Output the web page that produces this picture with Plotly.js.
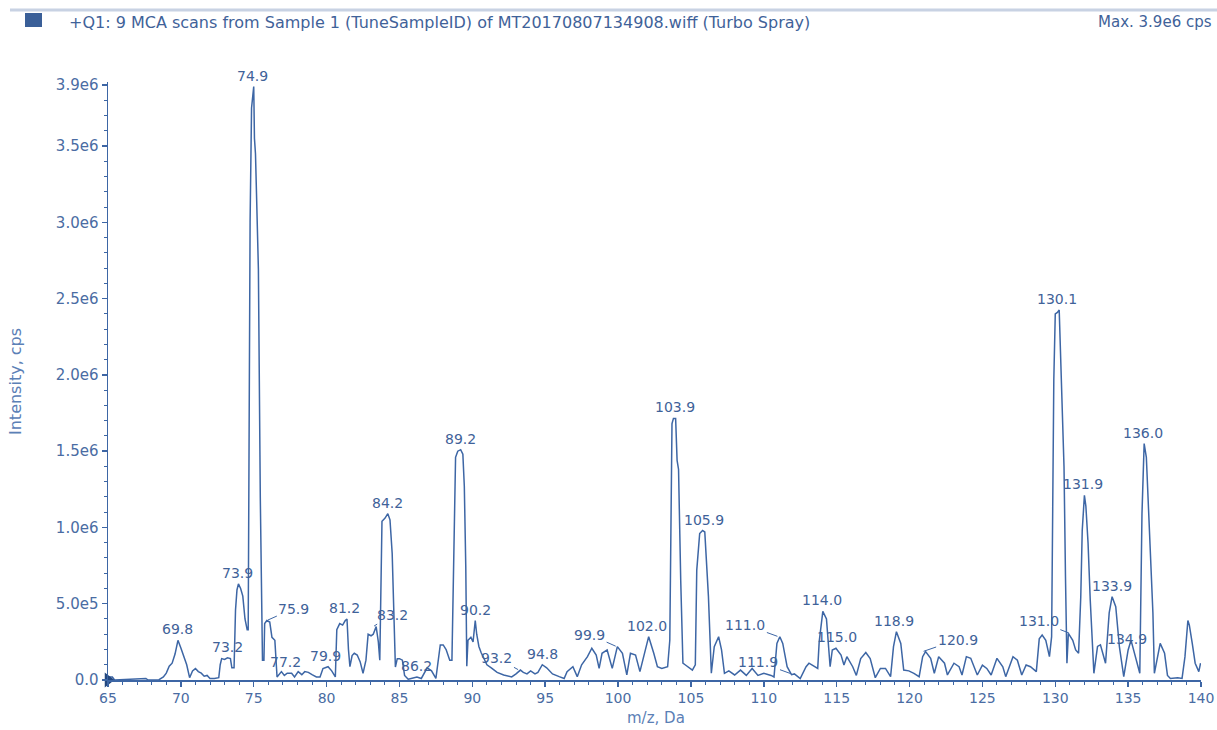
<!DOCTYPE html>
<html>
<head>
<meta charset="utf-8">
<script src="https://cdn.plot.ly/plotly-3.0.1.min.js"></script>
<style>
  html, body { margin: 0; padding: 0; background: #ffffff; }
  #chart { width: 1217px; height: 730px; }
</style>
</head>
<body>
<div id="chart"></div>
<script>
// ---- Data ----
const mz = [
  65.0, 65.3, 65.45, 66.0, 66.8, 67.0, 67.6, 67.75, 68.5, 68.8,
  69.0, 69.2, 69.4, 69.6, 69.8, 70.0, 70.2, 70.4, 70.6, 70.8,
  71.0, 71.2, 71.4, 71.6, 71.8, 72.0, 72.3, 72.6, 72.7, 72.8,
  73.0, 73.2, 73.4, 73.5, 73.65, 73.75, 73.85, 73.95, 74.1, 74.25,
  74.4, 74.55, 74.62, 74.75, 74.85, 75.0, 75.05, 75.12, 75.2, 75.32,
  75.45, 75.6, 75.7, 75.75, 75.9, 76.1, 76.25, 76.45, 76.6, 76.75,
  76.9, 77.1, 77.3, 77.6, 77.8, 78.05, 78.3, 78.5, 78.75, 79.0,
  79.3, 79.55, 79.75, 80.1, 80.35, 80.6, 80.7, 80.9, 81.1, 81.28,
  81.4, 81.5, 81.6, 81.75, 81.9, 82.1, 82.3, 82.5, 82.7, 82.85,
  83.05, 83.2, 83.4, 83.55, 83.65, 83.8, 84.0, 84.2, 84.35, 84.5,
  84.6, 84.72, 84.85, 85.0, 85.2, 85.35, 85.6, 86.0, 86.2, 86.5,
  86.9, 87.2, 87.5, 87.8, 88.0, 88.2, 88.45, 88.6, 88.7, 88.85,
  89.0, 89.2, 89.35, 89.45, 89.55, 89.62, 89.7, 89.9, 90.05, 90.2,
  90.3, 90.45, 90.6, 90.8, 91.0, 91.3, 91.7, 92.15, 92.7, 93.0,
  93.3, 93.5, 93.75, 94.0, 94.3, 94.5, 94.8, 95.1, 95.5, 95.96,
  96.3, 96.5, 96.9, 97.2, 97.5, 97.9, 98.2, 98.5, 98.7, 98.9,
  99.25, 99.6, 99.95, 100.3, 100.6, 100.85, 101.2, 101.5, 101.9, 102.1,
  102.45, 102.7, 103.0, 103.4, 103.55, 103.6, 103.65, 103.7, 103.8, 103.95,
  104.05, 104.15, 104.3, 104.45, 104.6, 104.8, 105.1, 105.3, 105.4, 105.6,
  105.8, 105.95, 106.1, 106.2, 106.4, 106.6, 106.9, 107.1, 107.3, 107.6,
  108.0, 108.4, 108.8, 109.2, 109.6, 110.0, 110.5, 110.7, 110.9, 111.1,
  111.3, 111.6, 111.9, 112.1, 112.5, 112.9, 113.1, 113.4, 113.7, 113.8,
  114.05, 114.3, 114.55, 114.7, 114.95, 115.3, 115.5, 115.7, 116.1, 116.35,
  116.65, 117.0, 117.3, 117.65, 118.0, 118.35, 118.7, 118.9, 119.1, 119.4,
  119.6, 119.95, 120.3, 120.66, 120.9, 121.1, 121.45, 121.7, 122.0, 122.4,
  122.6, 123.05, 123.4, 123.6, 123.9, 124.2, 124.65, 125.0, 125.3, 125.6,
  126.0, 126.4, 126.6, 127.1, 127.4, 127.7, 128.0, 128.3, 128.7, 128.9,
  129.1, 129.35, 129.6, 129.75, 129.8, 129.9, 130.0, 130.15, 130.27, 130.4,
  130.5, 130.6, 130.7, 130.8, 130.9, 131.2, 131.4, 131.6, 131.75, 131.85,
  132.0, 132.1, 132.25, 132.4, 132.65, 132.9, 133.1, 133.45, 133.7, 133.9,
  134.15, 134.4, 134.7, 135.0, 135.2, 135.5, 135.8, 135.95, 136.1, 136.25,
  136.5, 136.7, 136.8, 137.0, 137.2, 137.5, 137.7, 137.9, 138.4, 138.7,
  138.9, 139.1, 139.2, 139.4, 139.6, 139.85, 139.97
];
const intensity = [
  0.2e5, 0.2e5, 0, 0.02e5, 0.05e5, 0.1e5, 0.1e5, 0, 0.02e5, 0.2e5,
  0.45e5, 0.9e5, 1.1e5, 1.7e5, 2.6e5, 2.1e5, 1.6e5, 1.0e5, 0.15e5, 0.6e5,
  0.75e5, 0.55e5, 0.45e5, 0.25e5, 0.3e5, 0.1e5, 0.1e5, 0.15e5, 1.0e5, 1.4e5,
  1.35e5, 1.45e5, 1.4e5, 0.8e5, 0.8e5, 4.6e5, 5.9e5, 6.3e5, 6.0e5, 5.5e5,
  4.0e5, 3.3e5, 3.3e5, 30.0e5, 37.5e5, 38.9e5, 35.5e5, 34.5e5, 31.5e5, 26.9e5,
  12.0e5, 1.3e5, 1.3e5, 3.7e5, 3.9e5, 3.8e5, 2.8e5, 2.6e5, 0.2e5, 0.35e5,
  0.55e5, 0.3e5, 0.45e5, 0.44e5, 0.2e5, 0.55e5, 0.35e5, 0.55e5, 0.5e5, 0.35e5,
  0.2e5, 0.2e5, 0.75e5, 0.87e5, 0.6e5, 0.2e5, 3.3e5, 3.7e5, 3.6e5, 3.9e5,
  4.0e5, 2.0e5, 0.87e5, 1.6e5, 1.75e5, 1.64e5, 1.2e5, 0.44e5, 1.3e5, 3.0e5,
  2.9e5, 3.0e5, 3.5e5, 2.5e5, 1.3e5, 10.4e5, 10.6e5, 10.9e5, 10.5e5, 8.3e5,
  5.2e5, 0.85e5, 1.4e5, 1.4e5, 1.3e5, 0.3e5, 0.05e5, 0.15e5, 0.2e5, 0.1e5,
  0.8e5, 0.6e5, 0.1e5, 2.3e5, 2.3e5, 2.0e5, 1.3e5, 1.3e5, 8.0e5, 14.6e5,
  15.0e5, 15.1e5, 14.8e5, 12.7e5, 7.4e5, 0.9e5, 2.6e5, 2.8e5, 2.5e5, 3.9e5,
  3.0e5, 2.2e5, 1.8e5, 1.4e5, 1.0e5, 0.8e5, 0.5e5, 0.33e5, 0.2e5, 0.4e5,
  0.65e5, 0.5e5, 0.4e5, 0.6e5, 0.4e5, 0.5e5, 1.0e5, 0.8e5, 0.4e5, 0.22e5,
  0.1e5, 0.55e5, 0.87e5, 0.22e5, 1.0e5, 1.53e5, 2.08e5, 1.64e5, 0.76e5, 1.75e5,
  1.97e5, 0.76e5, 2.19e5, 1.75e5, 0.33e5, 1.75e5, 1.64e5, 0.55e5, 2.19e5, 2.84e5,
  1.75e5, 0.87e5, 0.76e5, 0.87e5, 2.6e5, 7.9e5, 14.6e5, 16.8e5, 17.15e5, 17.15e5,
  14.4e5, 13.8e5, 6.5e5, 1.1e5, 1.0e5, 0.87e5, 0.65e5, 1.0e5, 7.2e5, 9.6e5,
  9.8e5, 9.7e5, 7.2e5, 5.5e5, 0.44e5, 2.19e5, 2.84e5, 1.97e5, 0.44e5, 0.6e5,
  0.33e5, 0.65e5, 0.3e5, 0.76e5, 0.3e5, 0.44e5, 0.3e5, 0.2e5, 2.4e5, 2.84e5,
  2.4e5, 0.87e5, 0.35e5, 0.4e5, 0.1e5, 0.87e5, 1.1e5, 0.9e5, 0.76e5, 2.5e5,
  4.5e5, 4.0e5, 0.87e5, 1.97e5, 2.08e5, 1.64e5, 0.98e5, 1.53e5, 0.87e5, 0.3e5,
  1.4e5, 1.8e5, 1.4e5, 0.15e5, 0.76e5, 0.76e5, 0.22e5, 2.19e5, 3.17e5, 2.4e5,
  0.65e5, 0.6e5, 0.44e5, 0.22e5, 1.53e5, 1.86e5, 1.42e5, 0.44e5, 1.53e5, 1.1e5,
  0.33e5, 1.1e5, 0.87e5, 0.33e5, 1.53e5, 1.42e5, 0.33e5, 0.98e5, 0.76e5, 0.33e5,
  1.42e5, 0.87e5, 0.22e5, 1.53e5, 1.3e5, 0.33e5, 0.98e5, 0.87e5, 0.55e5, 2.7e5,
  2.95e5, 2.6e5, 1.53e5, 2.84e5, 9.8e5, 19.7e5, 24.0e5, 24.1e5, 24.25e5, 20.5e5,
  17.7e5, 14.0e5, 6.8e5, 1.1e5, 3.06e5, 2.6e5, 1.97e5, 1.75e5, 5.46e5, 9.8e5,
  12.1e5, 11.4e5, 8.96e5, 5.24e5, 0.44e5, 2.2e5, 2.3e5, 1.1e5, 4.4e5, 5.46e5,
  4.8e5, 2.19e5, 0.22e5, 1.97e5, 2.6e5, 1.53e5, 0.44e5, 10.9e5, 15.5e5, 14.6e5,
  9.4e5, 4.4e5, 0.44e5, 1.5e5, 2.4e5, 1.75e5, 0.3e5, 0.1e5, 0.15e5, 0.1e5,
  1.53e5, 3.9e5, 3.6e5, 2.4e5, 1.1e5, 0.55e5, 1.1e5
];

// Peak labels (m/z values written above peaks)
const peakLabels = ['69.8','73.2','73.9','74.9','75.9','77.2','79.9','81.2','83.2','84.2',
  '86.2','89.2','90.2','93.2','94.8','99.9','102.0','103.9','105.9','111.0',
  '111.9','114.0','115.0','118.9','120.9','130.1','131.0','131.9','133.9','134.9','136.0'];

// Axis tick labels
const xTickVals = [65, 70, 75, 80, 85, 90, 95, 100, 105, 110, 115, 120, 125, 130, 135, 140];
const yTickVals = [0, 5e5, 1e6, 1.5e6, 2e6, 2.5e6, 3e6, 3.5e6, 3.9e6];
const yTickText = ['0.0', '5.0e5', '1.0e6', '1.5e6', '2.0e6', '2.5e6', '3.0e6', '3.5e6', '3.9e6'];

const headerText = '+Q1: 9 MCA scans from Sample 1 (TuneSampleID) of MT20170807134908.wiff (Turbo Spray)';
const maxText = 'Max. 3.9e6 cps';
const xTitle = 'm/z, Da';
const yTitle = 'Intensity, cps';

// ---- Styling ----
const LINE = '#3d66a5';
const TEXT = '#3f6299';
const TICKTEXT = '#4a6ca3';
const FONT = 'DejaVu Sans';

// label offsets (pixels) for labels drawn with a small leader line
const leaderOffsets = {
  '75.9': 27, '83.2': 19, '93.2': -22, '99.9': -27, '111.0': -33,
  '111.9': -33, '120.9': 35, '131.0': -31
};

// plot-area geometry (pixels) for placing page decorations
const W = 1217, H = 730;
const M = { l: 108, r: 16, t: 82, b: 50 };
const PW = W - M.l - M.r, PH = H - M.t - M.b;
const px2x = p => (p - M.l) / PW;
const py2y = p => (H - M.b - p) / PH;

function peakHeight(center) {
  let best = 0;
  for (let i = 0; i < mz.length; i++) {
    if (Math.abs(mz[i] - center) <= 0.251 && intensity[i] > best) best = intensity[i];
  }
  return best;
}

const annotations = peakLabels.map(lbl => {
  const x = parseFloat(lbl);
  const y = peakHeight(x);
  const off = leaderOffsets[lbl];
  const base = {
    x: x, y: y, xref: 'x', yref: 'y', text: lbl,
    font: { family: FONT, size: 14, color: TEXT }
  };
  if (off !== undefined) {
    return Object.assign(base, {
      showarrow: true, arrowhead: 0, arrowwidth: 1, arrowcolor: LINE,
      ax: off, ay: -12, standoff: 1
    });
  }
  return Object.assign(base, { showarrow: false, yanchor: 'bottom', yshift: 1 });
});

annotations.push(
  { xref: 'paper', yref: 'paper', x: px2x(67), y: py2y(22), xanchor: 'left', yanchor: 'middle',
    text: headerText, showarrow: false, font: { family: FONT, size: 16, color: TEXT } },
  { xref: 'paper', yref: 'paper', x: px2x(1214), y: py2y(22), xanchor: 'right', yanchor: 'middle',
    text: maxText, showarrow: false, font: { family: FONT, size: 15, color: TEXT } },
  { xref: 'paper', yref: 'paper', x: px2x(15), y: py2y(382), xanchor: 'center', yanchor: 'middle',
    text: yTitle, textangle: -90, showarrow: false, font: { family: FONT, size: 16, color: '#5b80b6' } },
  { xref: 'paper', yref: 'paper', x: px2x(656), y: py2y(718), xanchor: 'center', yanchor: 'middle',
    text: xTitle, showarrow: false, font: { family: FONT, size: 15, color: '#5b80b6' } }
);

const shapes = [
  { type: 'line', xref: 'paper', yref: 'paper', x0: px2x(10), x1: px2x(1217), y0: py2y(10), y1: py2y(10),
    line: { color: '#c8d2e3', width: 3 } },
  { type: 'rect', xref: 'paper', yref: 'paper', x0: px2x(25), x1: px2x(42), y0: py2y(27), y1: py2y(13),
    fillcolor: '#3a5f98', line: { width: 0 } }
];

const traces = [
  {
    x: mz, y: intensity, type: 'scatter', mode: 'lines',
    line: { color: LINE, width: 1.5 }, hoverinfo: 'x+y', showlegend: false
  },
  {
    x: [mz[0]], y: [0], type: 'scatter', mode: 'markers', cliponaxis: false,
    marker: { symbol: 'triangle-right', size: 13, color: '#23477f' },
    hoverinfo: 'skip', showlegend: false
  }
];

const layout = {
  width: W, height: H,
  margin: M,
  paper_bgcolor: '#ffffff', plot_bgcolor: '#ffffff',
  showlegend: false,
  font: { family: FONT, size: 14, color: TEXT },
  xaxis: {
    range: [65, 140], showgrid: false, zeroline: false,
    showline: true, linecolor: LINE, linewidth: 1.5, mirror: false,
    tickmode: 'array', tickvals: xTickVals, ticktext: xTickVals.map(String),
    ticks: 'outside', ticklen: 5, tickwidth: 1.5, tickcolor: LINE,
    tickfont: { family: FONT, size: 14, color: TICKTEXT },
    minor: { tickmode: 'linear', tick0: 65, dtick: 1, ticks: 'outside', ticklen: 3, tickwidth: 1, tickcolor: LINE }
  },
  yaxis: {
    range: [0, 3.92e6], showgrid: false, zeroline: false,
    showline: true, linecolor: LINE, linewidth: 1.5,
    tickmode: 'array', tickvals: yTickVals, ticktext: yTickText,
    ticks: 'outside', ticklen: 5, tickwidth: 1.5, tickcolor: LINE,
    tickfont: { family: FONT, size: 15, color: TICKTEXT },
    minor: { tickmode: 'linear', tick0: 0, dtick: 1e5, ticks: 'outside', ticklen: 3, tickwidth: 1, tickcolor: LINE }
  },
  annotations: annotations,
  shapes: shapes
};

Plotly.newPlot('chart', traces, layout, { displayModeBar: false, staticPlot: true });
</script>
</body>
</html>
